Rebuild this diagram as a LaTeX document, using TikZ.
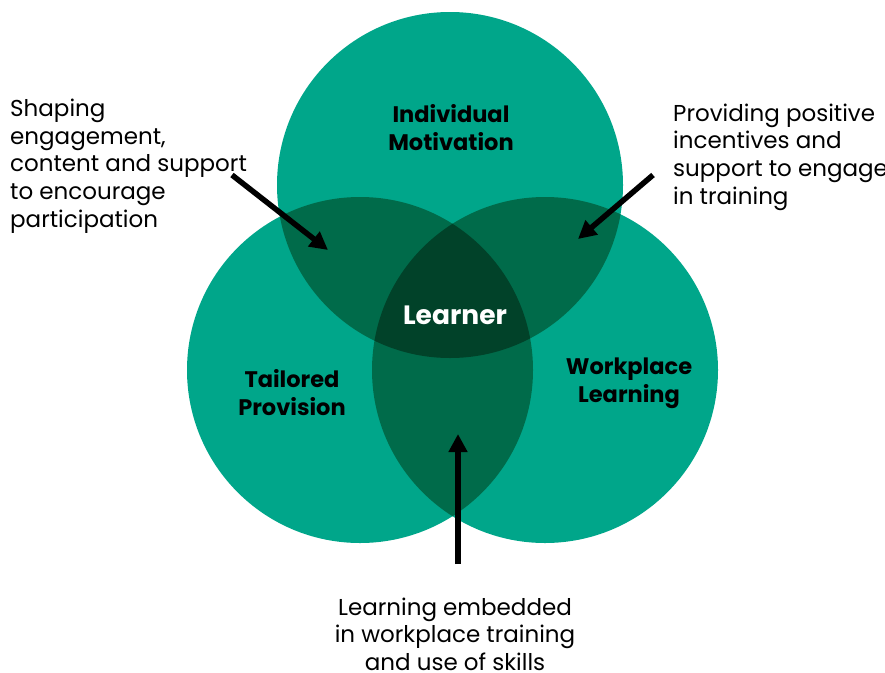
\documentclass[tikz,border=0pt]{standalone}
\usepackage{fontspec}
\setmainfont{Poppins}
\usetikzlibrary{arrows.meta}
\definecolor{tealA}{HTML}{00A68A}
\definecolor{tealB}{HTML}{006B4A}
\definecolor{tealC}{HTML}{014229}
\begin{document}
\begin{tikzpicture}[x=1pt,y=-1pt,
  plain/.style={font=\fontsize{23}{27.6}\selectfont, inner sep=0pt, text=black},
  heading/.style={font=\fontsize{22.5}{27.3}\selectfont\bfseries, inner sep=0pt, align=center, text=black},
  pointer/.style={line width=5.5pt, -{Triangle[length=18pt,width=18pt]}},
  ring/.style={circle, minimum size=346pt, inner sep=0pt}]
\useasboundingbox (0,0) rectangle (885,672);
\coordinate (T) at (450,185);
\coordinate (L) at (360,370);
\coordinate (R) at (545,370);
\node[ring, fill=tealA] (cT) at (T) {};
\node[ring, fill=tealA] (cL) at (L) {};
\node[ring, fill=tealA] (cR) at (R) {};
\begin{scope}
  \clip (T) circle (173pt);
  \fill[tealB] (L) circle (173pt) (R) circle (173pt);
\end{scope}
\begin{scope}
  \clip (L) circle (173pt);
  \fill[tealB] (R) circle (173pt);
\end{scope}
\begin{scope}
  \clip (T) circle (173pt);
  \clip (L) circle (173pt);
  \fill[tealC] (R) circle (173pt);
\end{scope}
\node[heading, anchor=base] (im) at (451,150) {Individual\\Motivation};
\node[heading, anchor=base] (tp) at (292,415) {Tailored\\Provision};
\node[heading, anchor=base] (wl) at (629,402) {Workplace\\Learning};
\node[font=\fontsize{26.5}{30}\selectfont\bfseries, text=white, inner sep=0pt, anchor=base] (ln) at (455,324) {Learner};
\node[plain, align=left, anchor=base west] (t1) at (10,227) {Shaping\\engagement,\\content and support\\to encourage\\participation};
\node[plain, align=left, anchor=base west] (t2) at (673,204) {Providing positive\\incentives and\\support to engage\\in training};
\node[plain, align=center, anchor=base] (t3) at (455,670.5) {Learning embedded\\in workplace training\\and use of skills};
\coordinate (a1s) at (232,175);
\coordinate (a1e) at (328,250);
\coordinate (a2s) at (653,175);
\coordinate (a2e) at (578,239);
\coordinate (a3s) at (458,564);
\coordinate (a3e) at (458,434);
\draw[pointer] (a1s) -- (a1e);
\draw[pointer] (a2s) -- (a2e);
\draw[pointer] (a3s) -- (a3e);
\end{tikzpicture}
\end{document}
